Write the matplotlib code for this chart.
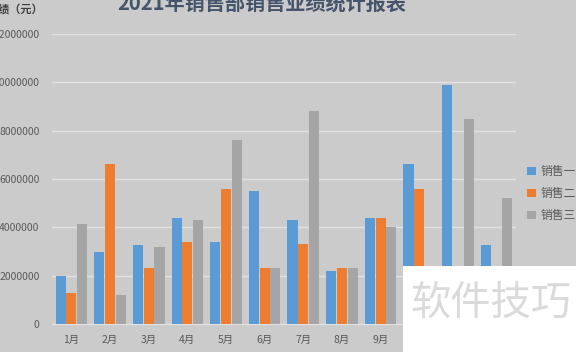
import matplotlib.pyplot as plt
import numpy as np
from matplotlib.patches import Rectangle

plt.rcParams['font.family'] = ['Noto Sans CJK SC', 'DejaVu Sans']

months = ["1月", "2月", "3月", "4月", "5月", "6月",
          "7月", "8月", "9月", "10月", "11月", "12月"]
sales_1 = [2000000, 3000000, 3250000, 4400000, 3400000, 5500000,
           4300000, 2200000, 4400000, 6600000, 9900000, 3250000]
sales_2 = [1300000, 6600000, 2300000, 3400000, 5600000, 2300000,
           3300000, 2300000, 4400000, 5600000, 2000000, 2000000]
sales_3 = [4150000, 1200000, 3200000, 4300000, 7600000, 2300000,
           8800000, 2300000, 4000000, 2000000, 8500000, 5200000]
series_names = ["销售一", "销售二", "销售三"]
colors = ["#5b9bd5", "#ed7d31", "#a5a5a5"]
yticks = [0, 2000000, 4000000, 6000000, 8000000, 10000000, 12000000]

bg = "#cbcbcb"
fig = plt.figure(figsize=(5.76, 3.52), dpi=100, facecolor=bg)
ax = fig.add_axes([0.0903, 0.0795, 0.8055, 0.824], facecolor=bg)

x = np.arange(len(months))
w = 0.265
step = 0.277
for i, vals in enumerate([sales_1, sales_2, sales_3]):
    ax.bar(x + (i - 1) * step, vals, width=w, color=colors[i],
           label=series_names[i], zorder=3)

ax.set_xlim(-0.5, len(months) - 0.5)
ax.set_ylim(0, 12000000)
ax.set_yticks(yticks)
ax.set_yticklabels([str(v) for v in yticks])
ax.set_xticks(x)
ax.set_xticklabels(months)
ax.tick_params(axis="both", length=0, labelsize=7.5, colors="#595959")
ax.tick_params(axis="y", pad=9)
ax.tick_params(axis="x", pad=8)
ax.grid(axis="y", color="#e2e2e2", linewidth=1, zorder=0)
for s in ["top", "right", "left"]:
    ax.spines[s].set_visible(False)
ax.spines["bottom"].set_color("#e2e2e2")

fig.text(0.455, 0.99, "2021年销售部销售业绩统计报表", ha="center", va="center",
         fontsize=14.5, fontweight="bold", color="#44546a")
fig.text(0.075, 0.975, "业绩（元）", ha="right", va="center",
         fontsize=8, fontweight="bold", color="#404040")

fig.legend(loc="center left", bbox_to_anchor=(0.897, 0.45), frameon=False,
           handlelength=0.7, handleheight=0.7, handletextpad=0.45,
           labelspacing=0.75, fontsize=8.5, labelcolor="#595959")

# watermark box in the lower right corner
fig.add_artist(Rectangle((0.70, 0.0), 0.30, 0.2443, transform=fig.transFigure,
                         facecolor="white", edgecolor="none", zorder=10))
fig.text(0.852, 0.137, "软件技巧", ha="center", va="center", fontsize=29,
         color="#dadada", zorder=11)

fig.savefig("out.png", dpi=100, facecolor=bg)
